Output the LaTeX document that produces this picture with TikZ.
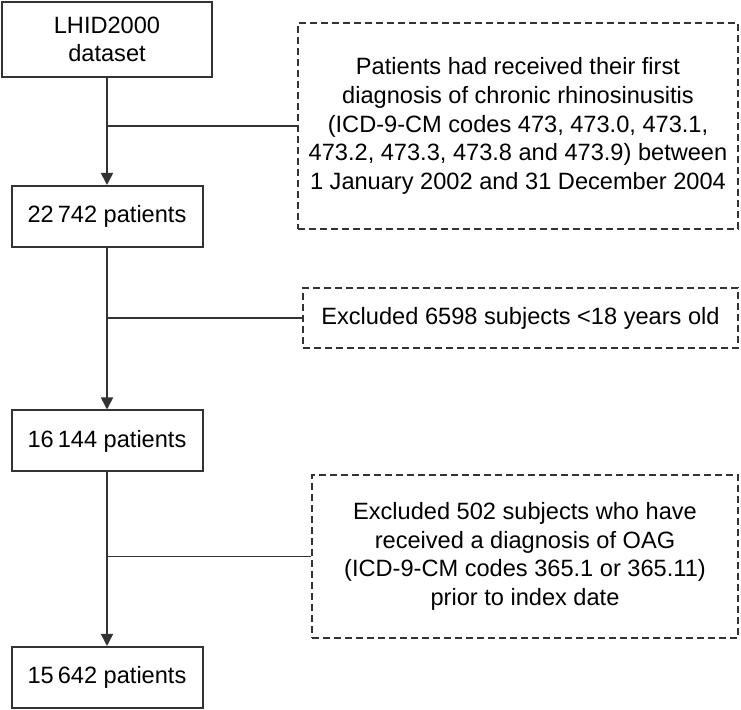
\documentclass[tikz,border=0pt]{standalone}
\usepackage{fontspec}
\setmainfont{Liberation Sans}
\usetikzlibrary{arrows.meta}
\definecolor{linegray}{HTML}{333333}
\tikzset{
  stepbox/.style={draw=linegray, line width=1pt, minimum width=95.5pt, minimum height=30.5pt, inner sep=0pt, align=center},
  excludebox/.style={draw=linegray, line width=0.7pt, dash pattern=on 3.5pt off 2pt, inner sep=0pt, align=center},
  flow/.style={draw=linegray, line width=0.8pt, -{Triangle[width=6pt,length=6pt]}},
  branch/.style={draw=linegray, line width=0.8pt}
}
\begin{document}
\begin{tikzpicture}[x=0.5pt, y=-0.5pt, font=\fontsize{11.8}{14.35}\selectfont]
        \useasboundingbox[fill=white] (0,0) rectangle (741,710);

        % main flow
        \node[stepbox, minimum width=105pt, minimum height=37.5pt] (dataset) at (107,39.5) {LHID2000\\dataset};
        \node[stepbox] (all) at (107,216.5) {22\,742 patients};
        \node[stepbox] (adults) at (107,441) {16\,144 patients};
        \node[stepbox] (final) at (107,677.5) {15\,642 patients};

        % exclusion criteria
        \node[excludebox, minimum width=220pt, minimum height=103pt] (crs) at (518,126)
            {Patients had received their first\\diagnosis of chronic rhinosinusitis\\(ICD-9-CM codes 473, 473.0, 473.1,\\473.2, 473.3, 473.8 and 473.9) between\\1 January 2002 and 31 December 2004};
        \node[excludebox, minimum width=217.5pt, minimum height=30pt] (age) at (520.5,318)
            {Excluded 6598 subjects <18 years old};
        \node[excludebox, minimum width=213pt, minimum height=81.5pt] (oag) at (525,556.5)
            {Excluded 502 subjects who have\\received a diagnosis of OAG\\(ICD-9-CM codes 365.1 or 365.11)\\prior to index date};

        \draw[flow] (dataset) -- (all);
        \draw[flow] (all) -- (adults);
        \draw[flow] (adults) -- (final);

        \draw[branch] (crs.west) -- (crs.west -| dataset.south);
        \draw[branch] (age.west) -- (age.west -| all.south);
        \draw[branch] (oag.west) -- (oag.west -| adults.south);
    \end{tikzpicture}
\end{document}
